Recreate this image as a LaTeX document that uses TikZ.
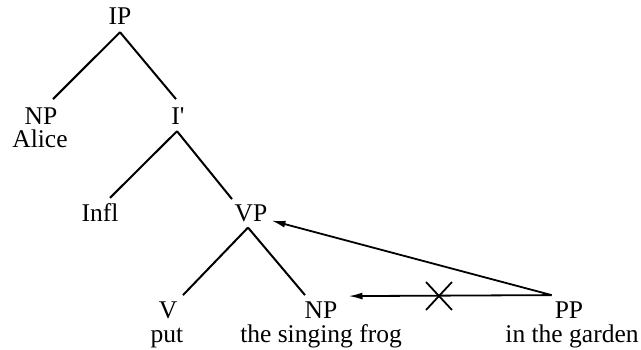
\documentclass[tikz,border=0pt]{standalone}
\usepackage{fontspec}
\setmainfont{Liberation Serif}
\usetikzlibrary{arrows.meta,shapes.misc}
\begin{document}
\begin{tikzpicture}[x=1pt,y=-1pt,
 lbl/.style={inner sep=0pt,anchor=base,font=\fontsize{25.5}{26}\selectfont},
 branch/.style={line width=2pt},
 move/.style={line width=1.8pt,-{Latex[length=14pt,width=7pt]}}]
 \useasboundingbox (0,0) rectangle (641,350);
 \node[lbl] (ip) at (120,25) {IP};
 \node[lbl] (np1) at (41,125) {NP};
 \node[lbl] (alice) at (40,148) {Alice};
 \node[lbl] (ibar) at (178,125) {I\textquotesingle};
 \node[lbl] (infl) at (100,222) {Infl};
 \node[lbl] (vp) at (251,222) {VP};
 \node[lbl] (v) at (168,319) {V};
 \node[lbl] (put) at (167,342) {put};
 \node[lbl] (np2) at (321,319) {NP};
 \node[lbl] (frog) at (321,342) {the singing frog};
 \node[lbl] (pp) at (569,319) {PP};
 \node[lbl] (garden) at (572,342) {in the garden};
 \draw[branch] ([yshift=-7pt]ip.south) -- ([xshift=12pt,yshift=9pt]np1.north);
 \draw[branch] ([yshift=-7pt]ip.south) -- ([xshift=-2pt,yshift=9pt]ibar.north);
 \draw[branch] ([xshift=-1pt,yshift=-6pt]ibar.south) -- ([xshift=10pt,yshift=6pt]infl.north);
 \draw[branch] ([xshift=-1pt,yshift=-6pt]ibar.south) -- ([xshift=-19pt,yshift=6pt]vp.north);
 \draw[branch] ([xshift=-3pt,yshift=-5pt]vp.south) -- ([xshift=15pt,yshift=7pt]v.north);
 \draw[branch] ([xshift=-3pt,yshift=-5pt]vp.south) -- ([xshift=-16pt,yshift=7pt]np2.north);
 \draw[move] ([xshift=-3pt,yshift=7pt]pp.north west) -- ([xshift=4pt,yshift=2pt]vp.south east);
 \draw[move] ([xshift=-3pt,yshift=7pt]pp.north west) -- ([xshift=11pt,yshift=6pt]np2.north east);
 \node[cross out,draw,line width=1.8pt,minimum width=24pt,minimum height=26pt] (block) at (439,296) {};
\end{tikzpicture}
\end{document}
